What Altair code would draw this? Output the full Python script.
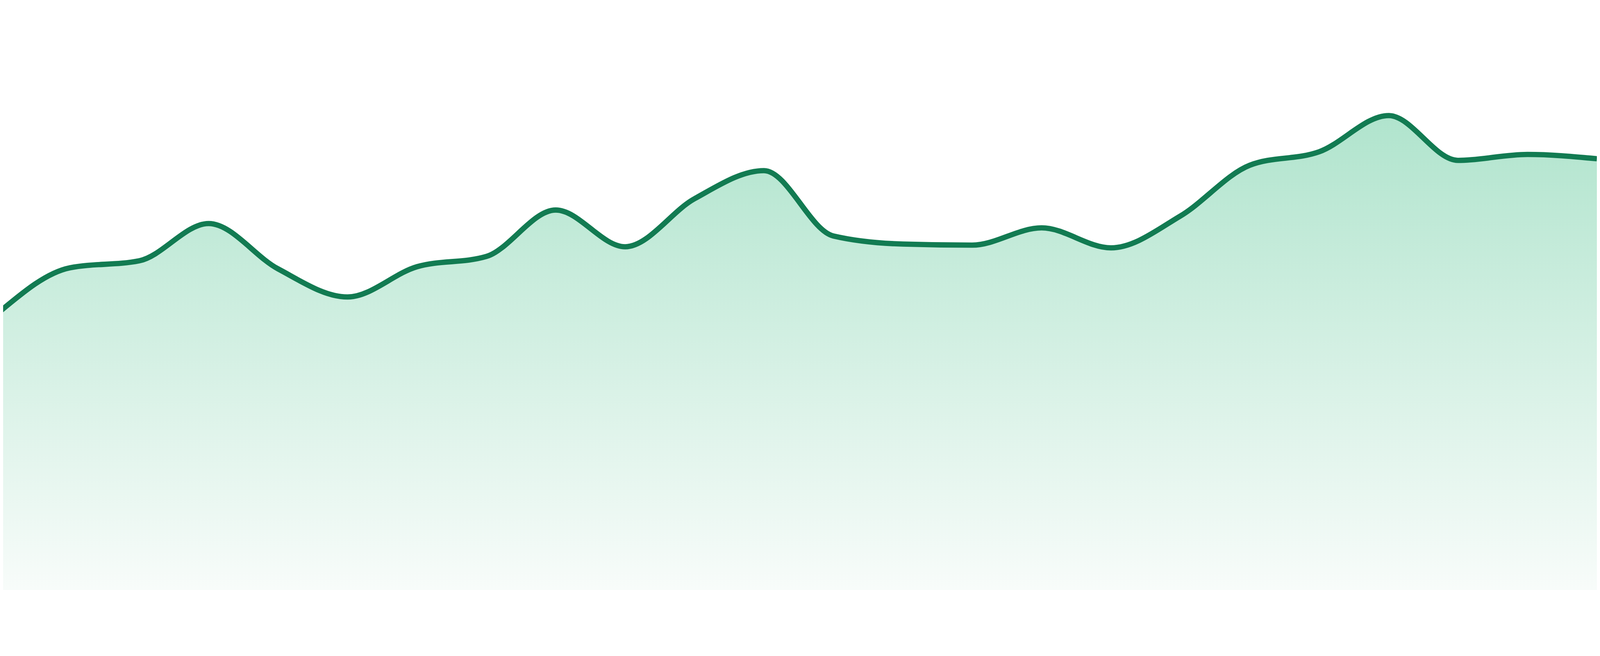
import altair as alt
import pandas as pd

# index of each sample (equally spaced)
idx = list(range(24))
# series values (0-100 scale)
values = [51.7, 59.7, 61.0, 67.9, 59.5, 54.3, 59.9, 61.8, 70.4, 63.6, 72.5, 77.7,
          65.6, 64.1, 63.9, 67.1, 63.4, 69.3, 78.7, 81.2, 87.9, 79.6, 80.7, 79.9]

df = pd.DataFrame({"i": idx, "v": values})

LINE = "#127b52"
TOP = "#b0e4cd"
BOTTOM = "#f8fcfa"

x_enc = alt.X("i:Q", axis=None,
              scale=alt.Scale(domain=[0.0383, 23], nice=False, zero=False))
y_enc = alt.Y("v:Q", axis=None, scale=alt.Scale(domain=[0, 100], nice=False))

area = alt.Chart(df).mark_area(
    interpolate="monotone",
    clip=True,
    color=alt.Gradient(
        gradient="linear",
        stops=[alt.GradientStop(color=TOP, offset=0),
               alt.GradientStop(color=BOTTOM, offset=1)],
        x1=1, x2=1, y1=0, y2=1,
    ),
).encode(x=x_enc, y=y_enc)

line = alt.Chart(df).mark_line(
    interpolate="monotone", clip=True, color=LINE, strokeWidth=16
).encode(x=x_enc, y=y_enc)

chart = (area + line).properties(
    width=4792, height=1624, padding=0, background="white"
).configure_view(stroke=None)

chart.save("out.html", embed_options={"renderer": "svg", "actions": False})
